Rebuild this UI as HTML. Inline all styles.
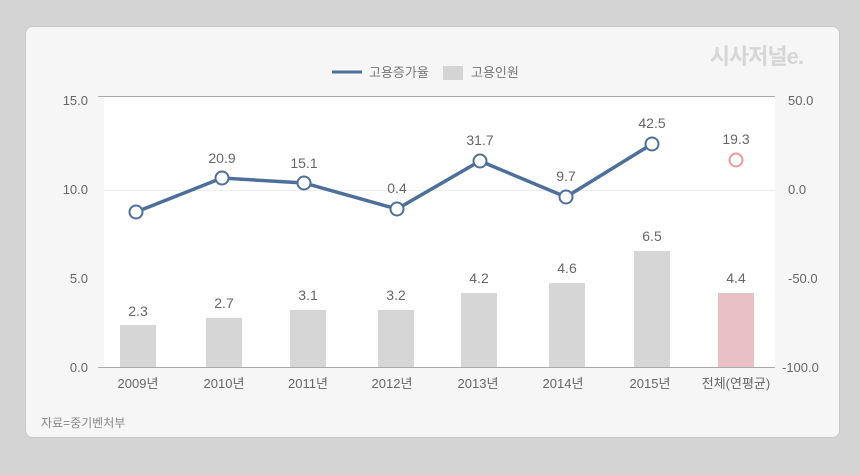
<!DOCTYPE html>
<html><head><meta charset="utf-8"><style>
body{margin:0;width:860px;height:470px;background:#d4d4d4;font-family:"Liberation Sans","Noto Sans CJK KR",sans-serif;overflow:hidden}
</style></head><body>
<svg width="860" height="470" xmlns="http://www.w3.org/2000/svg" font-family="Liberation Sans, Noto Sans CJK KR, sans-serif">
<rect x="25.5" y="26.5" width="814" height="411" rx="7" fill="#f6f6f6" stroke="#c8c8c8"/>
<text x="803" y="64" font-size="22" font-weight="bold" fill="#d6d6d6" text-anchor="end" letter-spacing="-1">시사저널e.</text>
<line x1="332" y1="72" x2="362" y2="72" stroke="#4d6f9a" stroke-width="3"/>
<text x="369" y="77" font-size="13" fill="#777">고용증가율</text>
<rect x="443" y="66" width="20" height="14" fill="#d4d4d4"/>
<text x="471" y="77" font-size="13" fill="#777">고용인원</text>
<rect x="104" y="97" width="671" height="270" fill="#fff"/>
<line x1="98" y1="96.5" x2="775" y2="96.5" stroke="#aaa"/>
<line x1="104" y1="190.5" x2="775" y2="190.5" stroke="#eee"/>
<line x1="98" y1="367.5" x2="775" y2="367.5" stroke="#aaa"/>
<g font-size="13" fill="#666" text-anchor="end">
<text x="88" y="105">15.0</text><text x="88" y="194">10.0</text><text x="88" y="283">5.0</text><text x="88" y="372">0.0</text>
</g>
<g font-size="13" fill="#666" text-anchor="start">
<text x="788" y="105">50.0</text><text x="788" y="194">0.0</text><text x="788" y="283">-50.0</text><text x="782" y="372">-100.0</text>
</g>
<g fill="#d6d6d6">
<rect x="120" y="325" width="36" height="42"/>
<rect x="206" y="318" width="36" height="49"/>
<rect x="290" y="310" width="36" height="57"/>
<rect x="378" y="310" width="36" height="57"/>
<rect x="461" y="293" width="36" height="74"/>
<rect x="549" y="283" width="36" height="84"/>
<rect x="634" y="251" width="36" height="116"/>
<rect x="718" y="293" width="36" height="74" fill="#e8c0c5"/>
</g>
<g font-size="14" fill="#666" text-anchor="middle">
<text x="138" y="316">2.3</text><text x="224" y="308">2.7</text><text x="308" y="300">3.1</text><text x="396" y="300">3.2</text>
<text x="479" y="283">4.2</text><text x="567" y="273">4.6</text><text x="652" y="241">6.5</text><text x="736" y="283">4.4</text>
<text x="222" y="163">20.9</text><text x="304" y="168">15.1</text><text x="397" y="193">0.4</text>
<text x="480" y="145">31.7</text><text x="566" y="181">9.7</text><text x="652" y="128">42.5</text><text x="736" y="144">19.3</text>
</g>
<polyline points="136,212 222,178 304,183 397,209 480,161 566,197 652,144" fill="none" stroke="#4d6f9a" stroke-width="3.5"/>
<g fill="#fff" stroke="#4d6f9a" stroke-width="2">
<circle cx="136" cy="212" r="6.5"/><circle cx="222" cy="178" r="6.5"/><circle cx="304" cy="183" r="6.5"/>
<circle cx="397" cy="209" r="6.5"/><circle cx="480" cy="161" r="6.5"/><circle cx="566" cy="197" r="6.5"/><circle cx="652" cy="144" r="6.5"/>
</g>
<circle cx="736" cy="160" r="6.5" fill="#fff" stroke="#ec9a9a" stroke-width="2"/>
<g font-size="13" fill="#666" text-anchor="middle">
<text x="138" y="388">2009년</text><text x="224" y="388">2010년</text><text x="308" y="388">2011년</text><text x="392" y="388">2012년</text>
<text x="478" y="388">2013년</text><text x="563" y="388">2014년</text><text x="650" y="388">2015년</text><text x="736" y="388">전체(연평균)</text>
</g>
<text x="41" y="427" font-size="12" fill="#888">자료=중기벤처부</text>
</svg>
</body></html>
